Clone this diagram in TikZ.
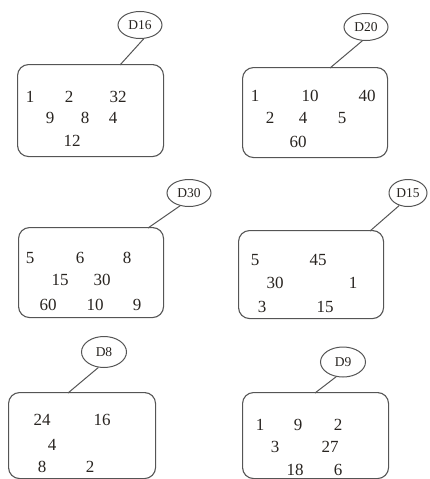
\documentclass[tikz,border=0pt]{standalone}
\usepackage{fontspec}
\setmainfont{Liberation Serif}
\usetikzlibrary{shapes.geometric}
\definecolor{edgegray}{RGB}{85,85,85}
\definecolor{numink}{RGB}{40,36,32}
\tikzset{
  panel/.style={
    draw=edgegray,
    line width=1.1pt,
    rounded corners=11pt,
    anchor=north west,
    inner sep=0pt
  },
  tag/.style={
    ellipse,
    draw=edgegray,
    line width=1pt,
    inner sep=0pt,
    minimum width=44pt,
    minimum height=27pt,
    text=numink,
    font=\fontsize{13.5}{14}\selectfont
  },
  num/.style={
    text=numink,
    inner sep=0pt,
    font=\fontsize{17}{18}\selectfont
  },
  link/.style={draw=edgegray, line width=1pt}
}

\begin{document}
\begin{tikzpicture}[x=1pt, y=-1pt]
  \useasboundingbox (0,0) rectangle (430,479);
  % D16
  \node[panel, minimum width=146, minimum height=92] (b16) at (17,64) {};
  \node[tag] (d16) at (140,25) {D16};
  \coordinate (t16) at (120,65);
  \draw[link] (d16.-75) -- (t16);
  \foreach \x/\y/\t in {30/97/1,69/97/2,118/97/32,50/118/9,85/118/8,113/118/4,72/141/12} {
    \node[num] (n16-\t) at (\x,\y) {\t};
  }
  % D20
  \node[panel, minimum width=145, minimum height=90] (b20) at (242,67) {};
  \node[tag] (d20) at (366,27) {D20};
  \coordinate (t20) at (330,68);
  \draw[link] (d20.-105) -- (t20);
  \foreach \x/\y/\t in {255/96/1,310/96/10,367/96/40,270/118/2,303/118/4,342/118/5,298/142/60} {
    \node[num] (n20-\t) at (\x,\y) {\t};
  }
  % D30
  \node[panel, minimum width=145, minimum height=90] (b30) at (18,227) {};
  \node[tag] (d30) at (189,193) {D30};
  \coordinate (t30) at (148,228);
  \draw[link] (d30.-125) -- (t30);
  \foreach \x/\y/\t in {30/258/5,80/258/6,127/258/8,60/280/15,102/280/30,48/305/60,95/305/10,137/305/9} {
    \node[num] (n30-\t) at (\x,\y) {\t};
  }
  % D15
  \node[panel, minimum width=145, minimum height=88] (b15) at (238,230) {};
  \node[tag, minimum width=38] (d15) at (408,193) {D15};
  \coordinate (t15) at (370,231);
  \draw[link] (d15.-125) -- (t15);
  \foreach \x/\y/\t in {255/260/5,318/260/45,275/283/30,353/283/1,262/307/3,325/307/15} {
    \node[num] (n15-\t) at (\x,\y) {\t};
  }
  % D8
  \node[panel, minimum width=147, minimum height=86] (b8) at (8,392) {};
  \node[tag, minimum width=45, minimum height=31] (d8) at (104,352) {D8};
  \coordinate (t8) at (68,393);
  \draw[link] (d8.-110) -- (t8);
  \foreach \x/\y/\t in {42/420/24,102/420/16,52/445/4,42/467/8,90/467/2} {
    \node[num] (n8-\t) at (\x,\y) {\t};
  }
  % D9
  \node[panel, minimum width=146, minimum height=86] (b9) at (242,392) {};
  \node[tag, minimum width=45, minimum height=30] (d9) at (343,362) {D9};
  \coordinate (t9) at (315,393);
  \draw[link] (d9.-115) -- (t9);
  \foreach \x/\y/\t in {260/425/1,298/425/9,338/425/2,275/447/3,330/447/27,295/470/18,338/470/6} {
    \node[num] (n9-\t) at (\x,\y) {\t};
  }
\end{tikzpicture}
\end{document}
